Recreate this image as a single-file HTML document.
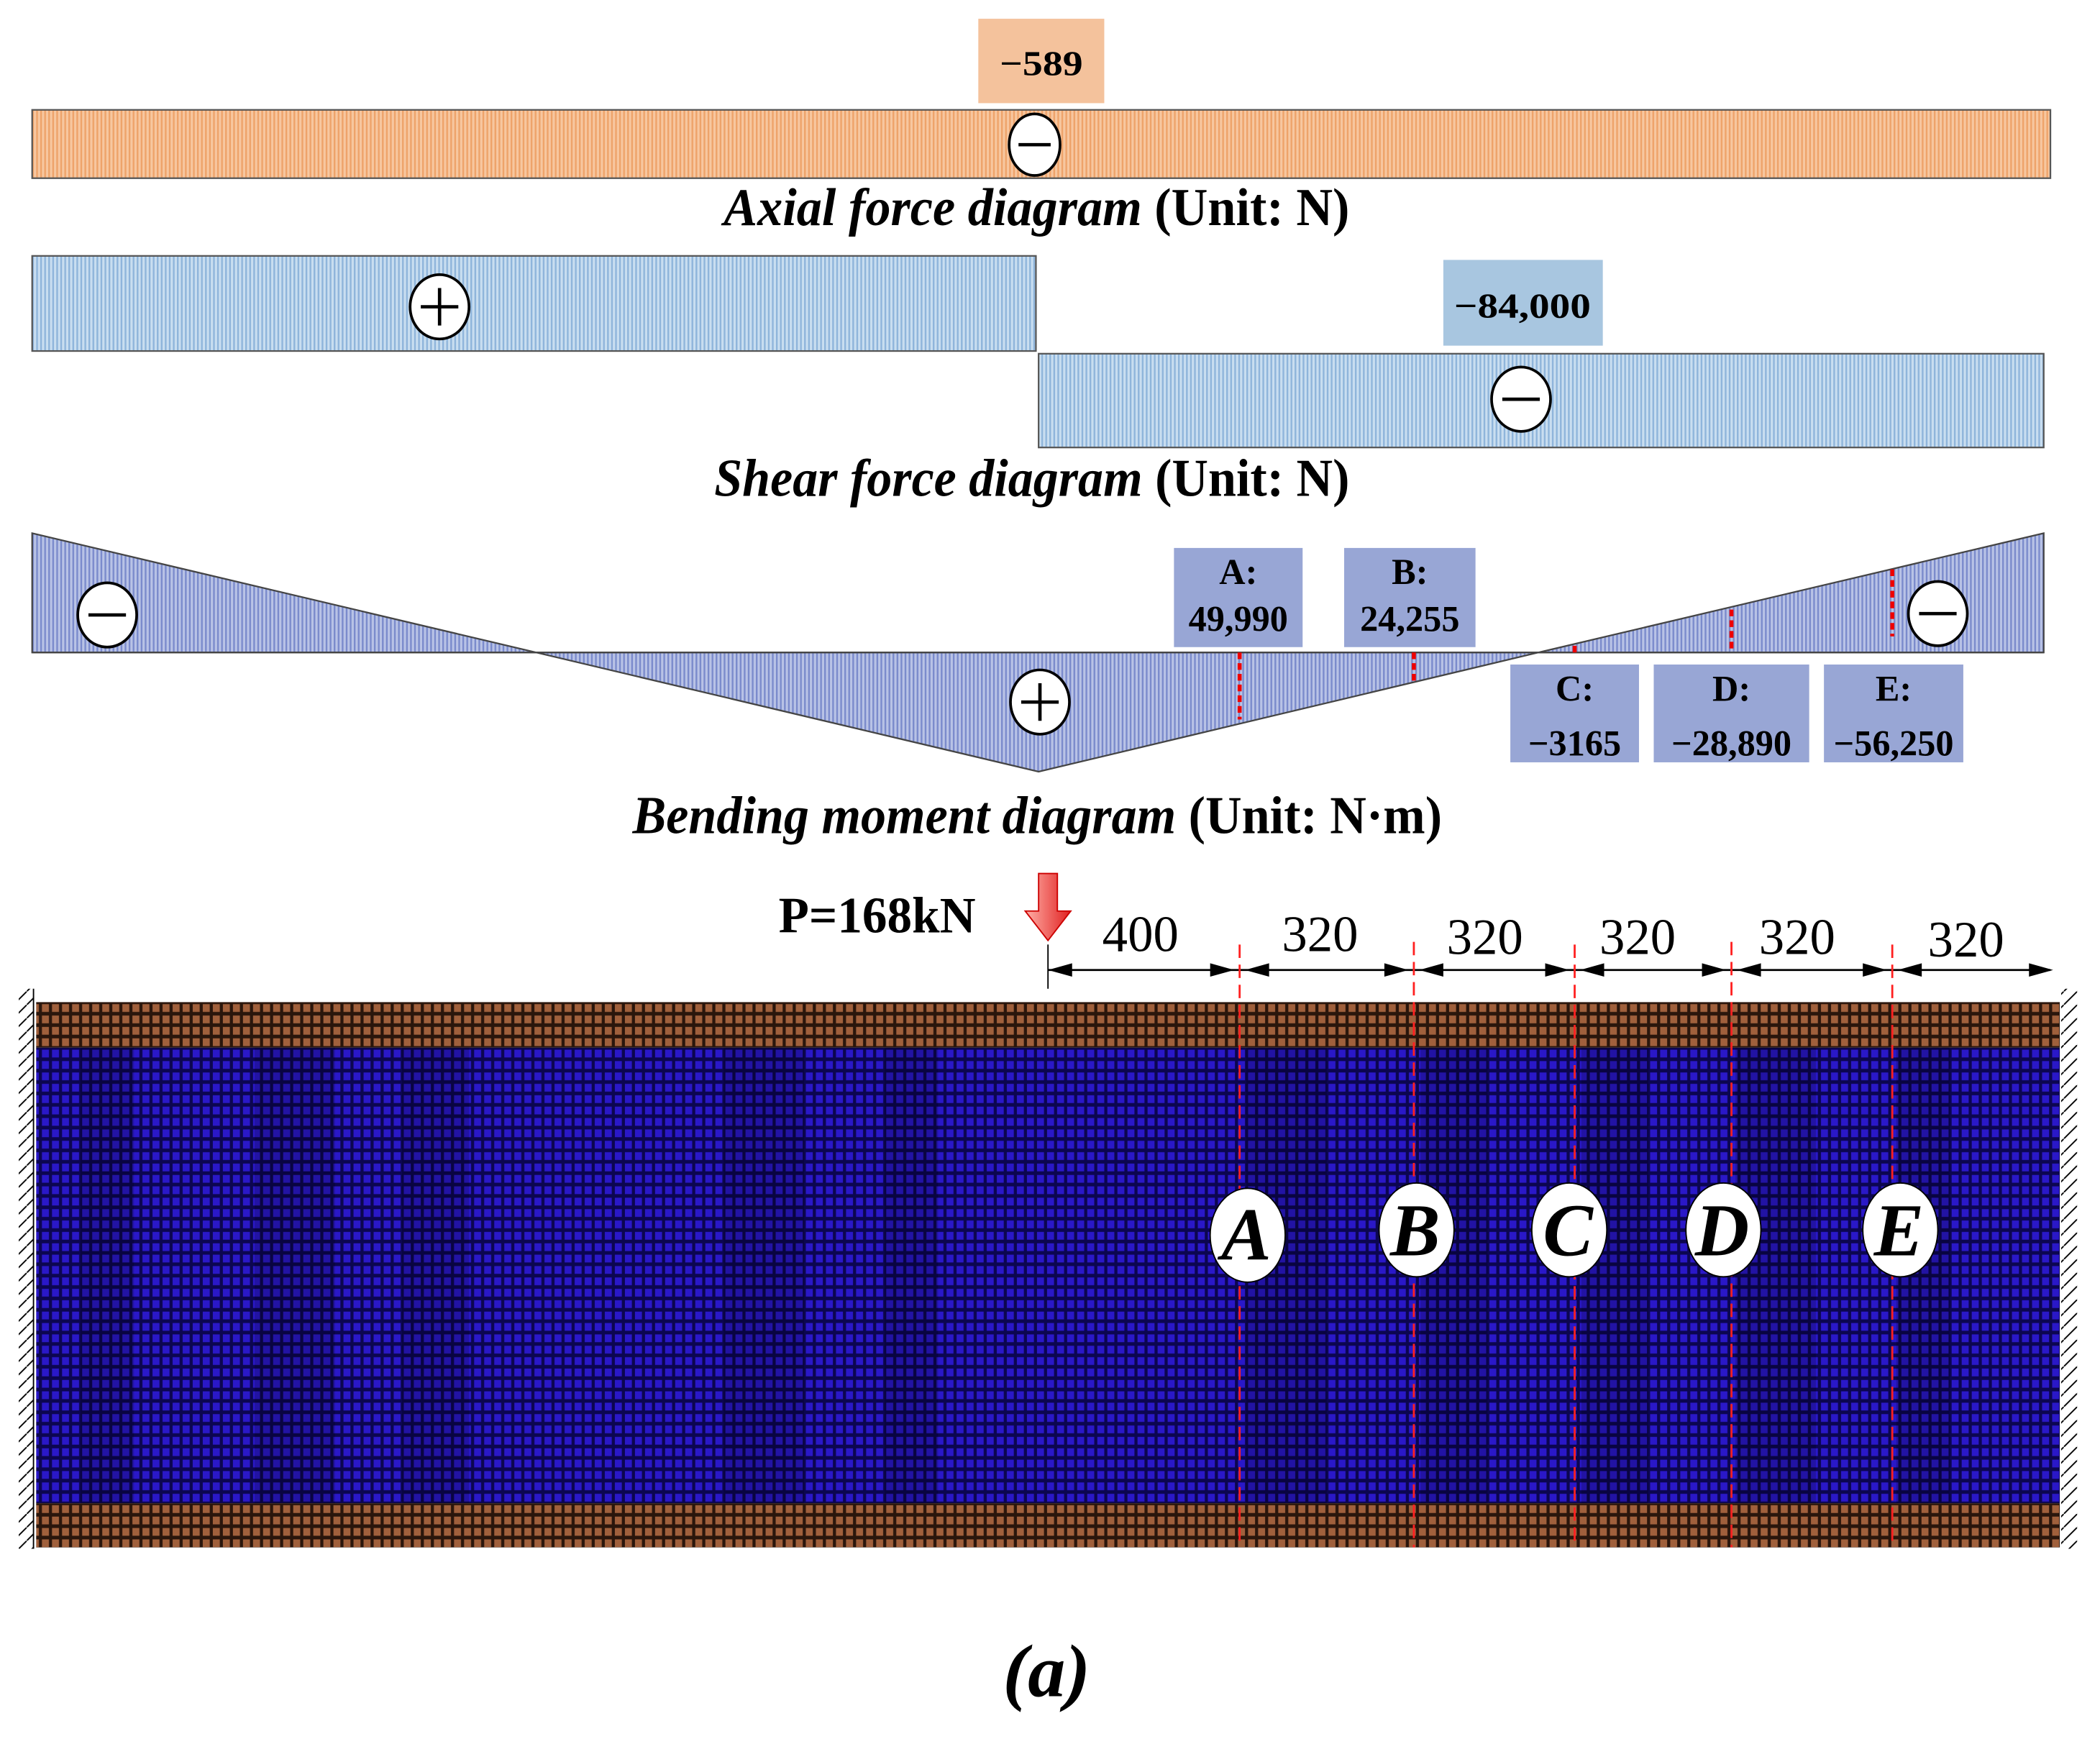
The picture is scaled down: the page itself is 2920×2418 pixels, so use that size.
<!DOCTYPE html>
<html><head><meta charset="utf-8"><style>html,body{margin:0;padding:0;background:#fff}svg{display:block}</style></head>
<body>
<svg width="2920" height="2418" viewBox="0 0 1567 1298" preserveAspectRatio="none" xmlns="http://www.w3.org/2000/svg" font-family="'Liberation Serif',serif">
<defs>
<pattern id="po" width="3" height="10" patternUnits="userSpaceOnUse"><rect width="3" height="10" fill="#f7c7a0"/><rect width="1.3" height="10" fill="#eea36a"/></pattern>
<pattern id="pb" width="3" height="10" patternUnits="userSpaceOnUse"><rect width="3" height="10" fill="#c9def0"/><rect width="1.3" height="10" fill="#8fb5db"/></pattern>
<pattern id="pm" width="3" height="10" patternUnits="userSpaceOnUse"><rect width="3" height="10" fill="#b9c3e6"/><rect width="1.3" height="10" fill="#7b8bcc"/></pattern>
<pattern id="blue" width="7.5" height="8.5" patternUnits="userSpaceOnUse"><rect width="7.5" height="8.5" fill="#0c0650"/><rect x="1.3" y="1.5" width="5.2" height="5.8" fill="#2a18c8"/></pattern>
<pattern id="brown" width="7.5" height="8.5" patternUnits="userSpaceOnUse"><rect width="7.5" height="8.5" fill="#2a160c"/><rect x="1.3" y="1.5" width="5.2" height="5.8" fill="#a0603c"/></pattern>
<pattern id="hatch" width="10" height="10" patternUnits="userSpaceOnUse"><path d="M0,10 L10,0" stroke="#000" stroke-width="1"/></pattern>
<linearGradient id="ar" x1="0" x2="1"><stop offset="0" stop-color="#ffb0a8"/><stop offset="1" stop-color="#e02020"/></linearGradient>
</defs>

<!-- Axial -->
<rect x="730" y="14" width="94" height="63" fill="#f4c29c"/>
<text x="777" y="56" font-size="26" font-weight="bold" text-anchor="middle" textLength="62" lengthAdjust="spacingAndGlyphs">−589</text>
<rect x="24" y="82" width="1506" height="51" fill="url(#po)" stroke="#555" stroke-width="1.2"/>
<ellipse cx="772" cy="108" rx="19" ry="23" fill="#fff" stroke="#000" stroke-width="2"/>
<line x1="760" y1="108" x2="784" y2="108" stroke="#000" stroke-width="2.5"/>
<text x="540" y="168" font-size="40" font-weight="bold" textLength="467" lengthAdjust="spacingAndGlyphs"><tspan font-style="italic">Axial force diagram</tspan> (Unit: N)</text>

<!-- Shear -->
<rect x="24" y="191" width="749" height="71" fill="url(#pb)" stroke="#555" stroke-width="1.2"/>
<rect x="775" y="264" width="750" height="70" fill="url(#pb)" stroke="#555" stroke-width="1.2"/>
<rect x="1077" y="194" width="119" height="64" fill="#a8c6e0"/>
<text x="1136" y="237" font-size="26" font-weight="bold" text-anchor="middle" textLength="102" lengthAdjust="spacingAndGlyphs">−84,000</text>
<ellipse cx="328" cy="229" rx="22" ry="24" fill="#fff" stroke="#000" stroke-width="2"/>
<line x1="314" y1="229" x2="342" y2="229" stroke="#000" stroke-width="2.5"/><line x1="328" y1="215" x2="328" y2="243" stroke="#000" stroke-width="2.5"/>
<ellipse cx="1135" cy="298" rx="22" ry="24" fill="#fff" stroke="#000" stroke-width="2"/>
<line x1="1121" y1="298" x2="1149" y2="298" stroke="#000" stroke-width="2.5"/>
<text x="533" y="370" font-size="40" font-weight="bold" textLength="474" lengthAdjust="spacingAndGlyphs"><tspan font-style="italic">Shear force diagram</tspan> (Unit: N)</text>

<!-- Bending -->
<polygon points="24,398 24,487 400,487" fill="url(#pm)" stroke="#444" stroke-width="1.2"/>
<polygon points="400,487 775,576 1148,487" fill="url(#pm)" stroke="#444" stroke-width="1.2"/>
<polygon points="1148,487 1525,487 1525,398" fill="url(#pm)" stroke="#444" stroke-width="1.2"/>
<line x1="24" y1="487" x2="1525" y2="487" stroke="#444" stroke-width="1.2"/>
<g stroke="#e00" stroke-width="3" stroke-dasharray="5,3">
<line x1="925" y1="487" x2="925" y2="537"/><line x1="1055" y1="487" x2="1055" y2="510"/>
<line x1="1175" y1="482" x2="1175" y2="487"/><line x1="1292" y1="455" x2="1292" y2="487"/><line x1="1412" y1="425" x2="1412" y2="475"/>
</g>
<ellipse cx="80" cy="459" rx="22" ry="24" fill="#fff" stroke="#000" stroke-width="2"/><line x1="66" y1="459" x2="94" y2="459" stroke="#000" stroke-width="2.5"/>
<ellipse cx="1446" cy="458" rx="22" ry="24" fill="#fff" stroke="#000" stroke-width="2"/><line x1="1432" y1="458" x2="1460" y2="458" stroke="#000" stroke-width="2.5"/>
<ellipse cx="776" cy="524" rx="22" ry="24" fill="#fff" stroke="#000" stroke-width="2"/>
<line x1="762" y1="524" x2="790" y2="524" stroke="#000" stroke-width="2.5"/><line x1="776" y1="510" x2="776" y2="538" stroke="#000" stroke-width="2.5"/>
<g fill="#98a6d5"><rect x="876" y="409" width="96" height="74"/><rect x="1003" y="409" width="98" height="74"/>
<rect x="1127" y="496" width="96" height="73"/><rect x="1234" y="496" width="116" height="73"/><rect x="1361" y="496" width="104" height="73"/></g>
<g font-size="27" font-weight="bold" text-anchor="middle">
<text x="924" y="436">A:</text><text x="924" y="471">49,990</text>
<text x="1052" y="436">B:</text><text x="1052" y="471">24,255</text>
<text x="1175" y="523">C:</text><text x="1175" y="564">−3165</text>
<text x="1292" y="523">D:</text><text x="1292" y="564">−28,890</text>
<text x="1413" y="523">E:</text><text x="1413" y="564">−56,250</text>
</g>
<text x="472" y="622" font-size="40" font-weight="bold" textLength="604" lengthAdjust="spacingAndGlyphs"><tspan font-style="italic">Bending moment diagram</tspan> (Unit: N·m)</text>

<!-- Load & dims -->
<text x="581" y="696" font-size="38" font-weight="bold" textLength="147" lengthAdjust="spacingAndGlyphs">P=168kN</text>
<polygon points="775,652 789,652 789,680 799,680 782,702 765,680 775,680" fill="url(#ar)" stroke="#c00" stroke-width="1"/>
<line x1="782" y1="705" x2="782" y2="738" stroke="#000" stroke-width="1"/>
<line x1="782" y1="724" x2="1530" y2="724" stroke="#000" stroke-width="1.5"/>
<g fill="#000">
<polygon points="782,724 800,719 800,729"/><polygon points="921,724 903,719 903,729"/>
<polygon points="929,724 947,719 947,729"/><polygon points="1051,724 1033,719 1033,729"/>
<polygon points="1059,724 1077,719 1077,729"/><polygon points="1171,724 1153,719 1153,729"/>
<polygon points="1179,724 1197,719 1197,729"/><polygon points="1288,724 1270,719 1270,729"/>
<polygon points="1296,724 1314,719 1314,729"/><polygon points="1408,724 1390,719 1390,729"/>
<polygon points="1416,724 1434,719 1434,729"/><polygon points="1532,724 1514,719 1514,729"/>
</g>
<g font-size="38" text-anchor="middle">
<text x="851" y="710">400</text><text x="985" y="710">320</text><text x="1108" y="712">320</text>
<text x="1222" y="712">320</text><text x="1341" y="712">320</text><text x="1467" y="714">320</text>
</g>

<!-- Beam -->
<rect x="14" y="738" width="11" height="418" fill="url(#hatch)"/>
<line x1="25" y1="738" x2="25" y2="1156" stroke="#000" stroke-width="1"/>
<rect x="1538" y="738" width="12" height="418" fill="url(#hatch)"/>
<rect x="27" y="748" width="1510" height="34" fill="url(#brown)"/>
<rect x="27" y="782" width="1510" height="340" fill="url(#blue)"/>
<rect x="27" y="1122" width="1510" height="33" fill="url(#brown)"/>
<g fill="#000" opacity="0.18">
<rect x="60" y="782" width="40" height="340"/><rect x="190" y="782" width="60" height="340"/><rect x="300" y="782" width="50" height="340"/>
<rect x="540" y="782" width="60" height="340"/><rect x="660" y="782" width="40" height="340"/><rect x="930" y="782" width="60" height="340"/>
<rect x="1060" y="782" width="50" height="340"/><rect x="1180" y="782" width="50" height="340"/><rect x="1295" y="782" width="60" height="340"/><rect x="1415" y="782" width="40" height="340"/>
</g>
<g stroke="#ff2020" stroke-width="1.5" stroke-dasharray="10,5">
<line x1="925" y1="705" x2="925" y2="1155"/><line x1="1055" y1="703" x2="1055" y2="1155"/><line x1="1175" y1="705" x2="1175" y2="1155"/>
<line x1="1292" y1="703" x2="1292" y2="1155"/><line x1="1412" y1="705" x2="1412" y2="1155"/>
</g>
<g fill="#fff" stroke="#000" stroke-width="1">
<ellipse cx="931" cy="922" rx="28" ry="35"/><ellipse cx="1057" cy="918" rx="28" ry="35"/><ellipse cx="1171" cy="918" rx="28" ry="35"/>
<ellipse cx="1286" cy="918" rx="28" ry="35"/><ellipse cx="1418" cy="918" rx="28" ry="35"/>
</g>
<g font-size="56" font-weight="bold" font-style="italic" text-anchor="middle">
<text x="930" y="940">A</text><text x="1056" y="937">B</text><text x="1170" y="937">C</text><text x="1285" y="937">D</text><text x="1417" y="937">E</text>
</g>
<text x="781" y="1266" font-size="56" font-weight="bold" font-style="italic" text-anchor="middle">(a)</text>
</svg>
</body></html>
